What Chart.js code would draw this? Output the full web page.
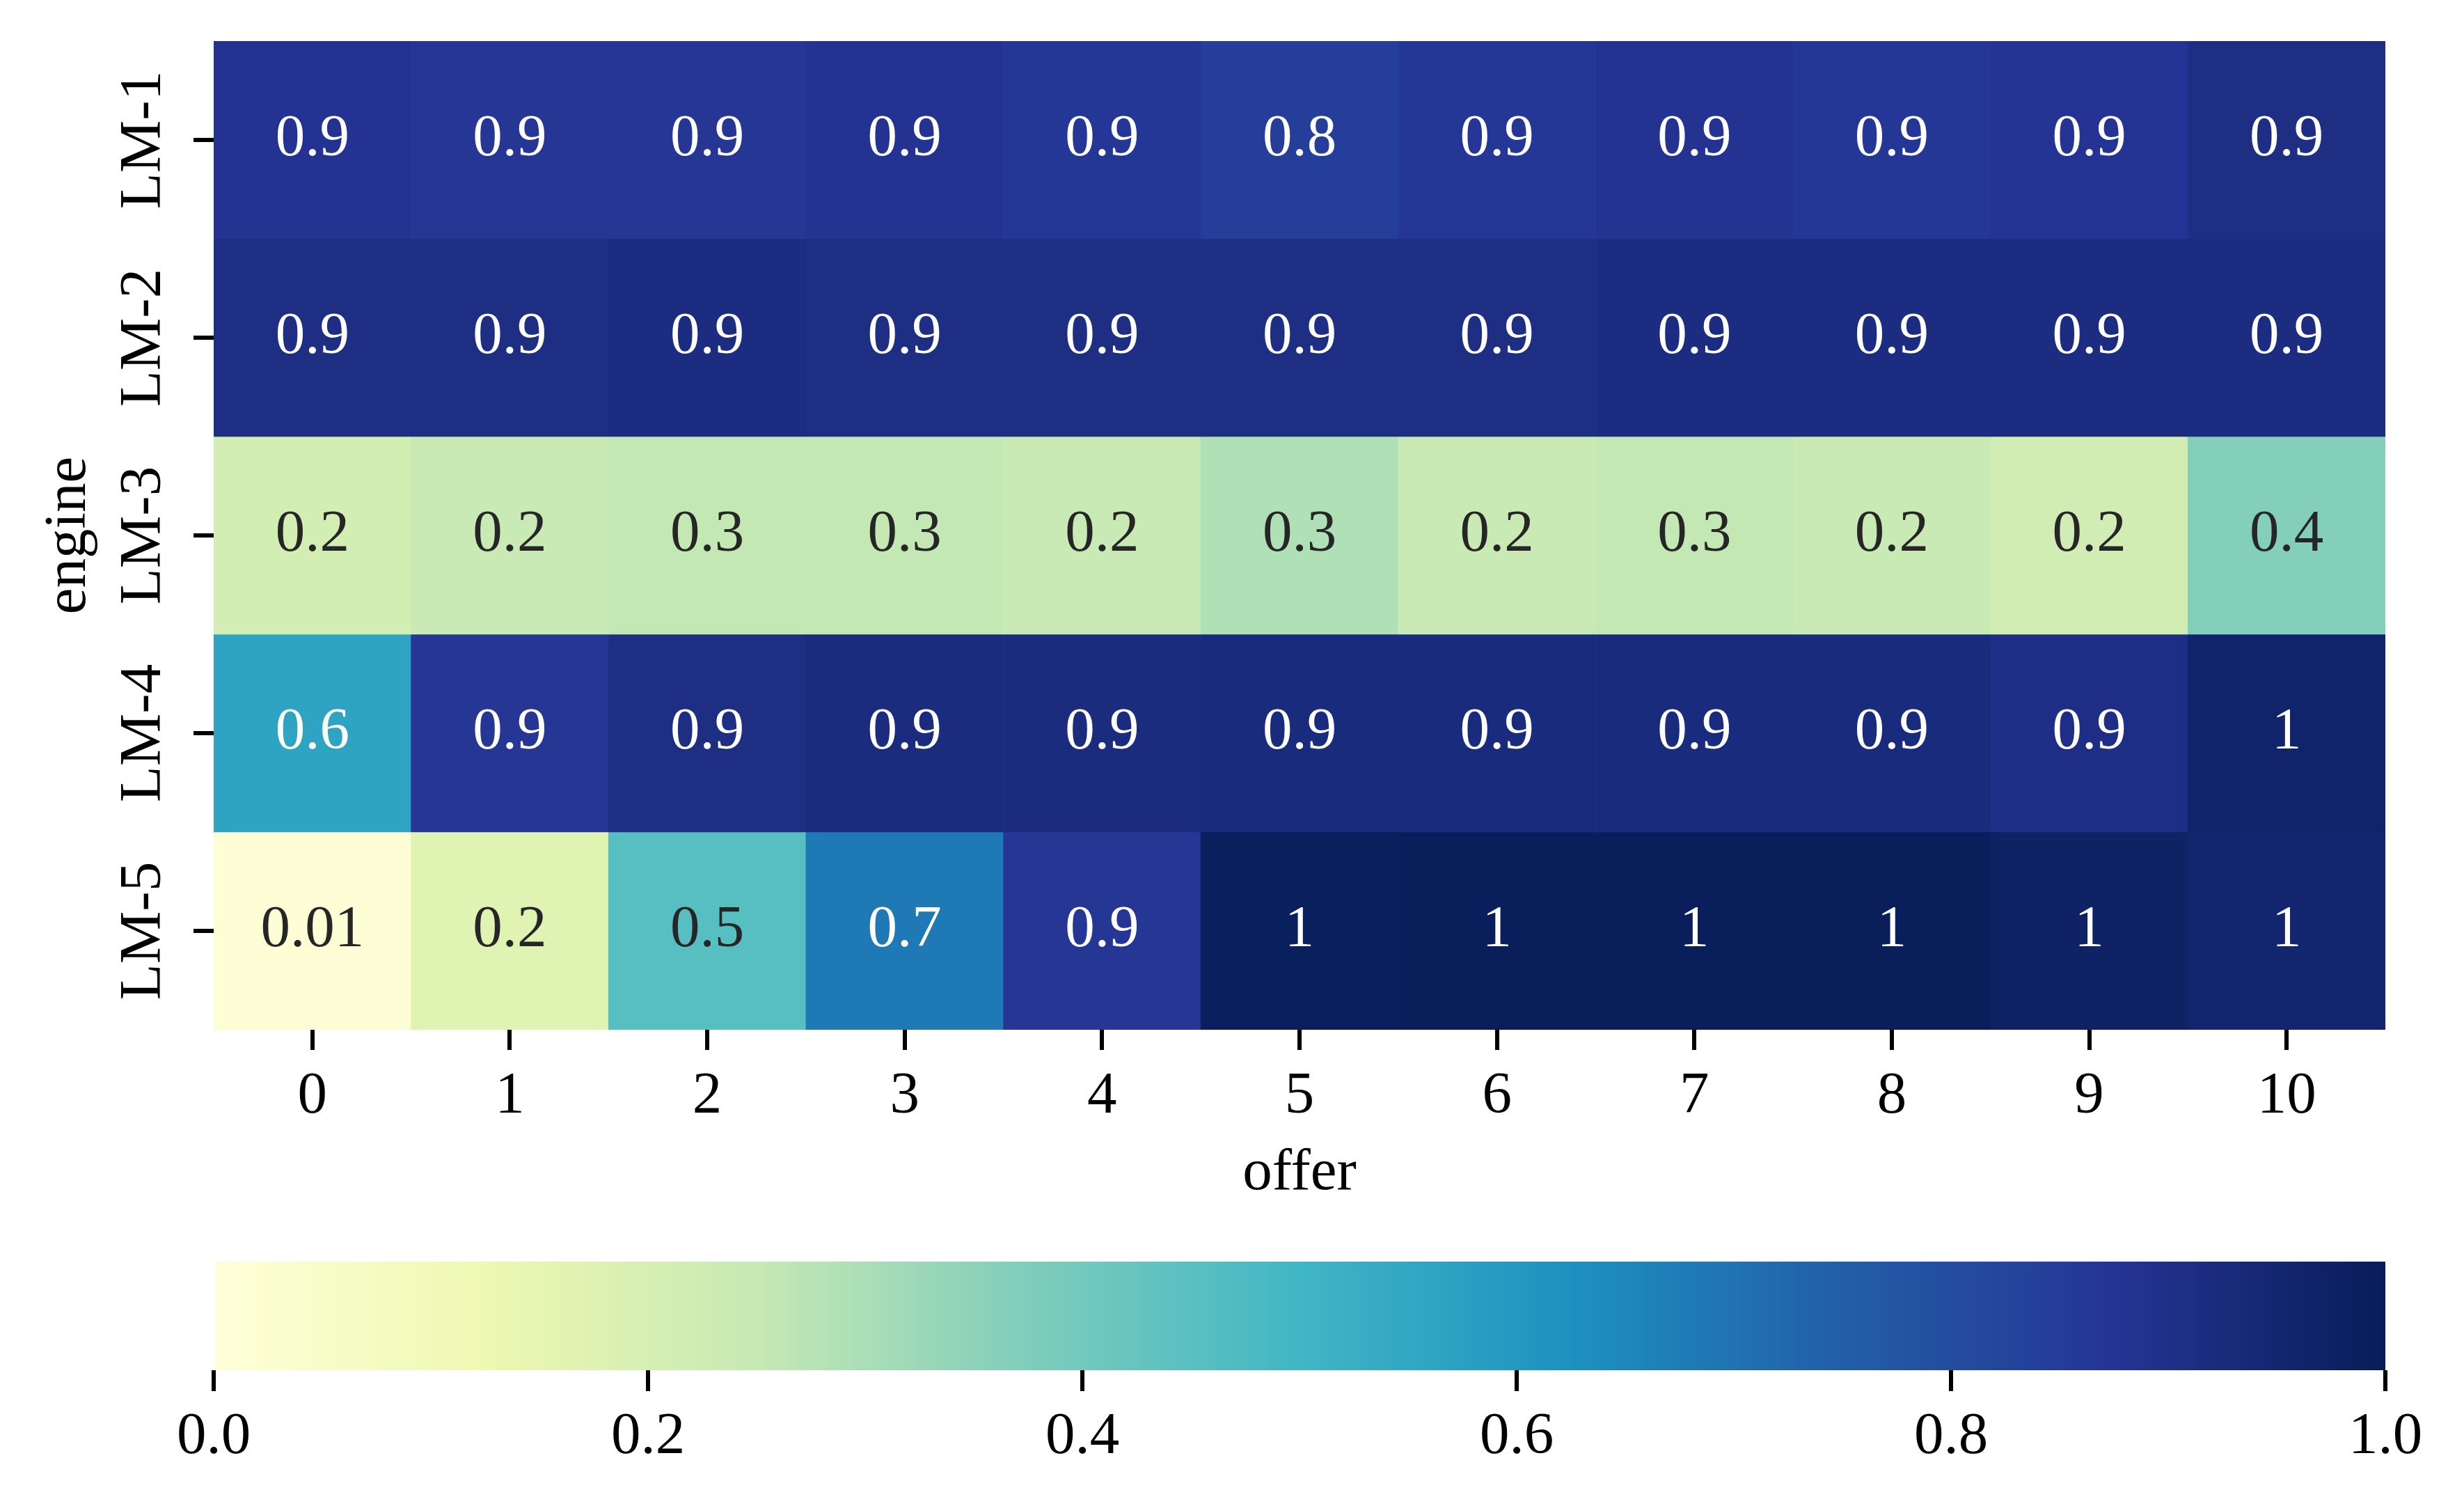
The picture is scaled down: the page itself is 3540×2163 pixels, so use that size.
<!DOCTYPE html>
<html>
<head>
<meta charset="utf-8">
<script src="https://cdn.jsdelivr.net/npm/chart.js@4.4.1/dist/chart.umd.min.js"></script>
<style>
  html, body { margin: 0; padding: 0; background: #fff; }
  #wrap { position: relative; width: 3540px; height: 2163px; }
  #heat { position: absolute; left: 0; top: 0; }
  #cbar { position: absolute; left: 0; top: 1740px; }
</style>
</head>
<body>
<div id="wrap">
  <canvas id="heat" width="3540" height="1740"></canvas>
  <canvas id="cbar" width="3540" height="423"></canvas>
</div>
<script>
const offers = ["0", "1", "2", "3", "4", "5", "6", "7", "8", "9", "10"];
const engines = ["LM-1", "LM-2", "LM-3", "LM-4", "LM-5"];

// values
const lm1 = [0.88, 0.87, 0.87, 0.88, 0.865, 0.845, 0.865, 0.88, 0.865, 0.875, 0.91];
const lm2 = [0.91, 0.91, 0.915, 0.91, 0.91, 0.91, 0.91, 0.915, 0.915, 0.915, 0.915];
const lm3 = [0.21, 0.245, 0.255, 0.255, 0.245, 0.29, 0.245, 0.255, 0.245, 0.215, 0.366];
const lm4 = [0.565, 0.87, 0.91, 0.92, 0.92, 0.925, 0.925, 0.925, 0.925, 0.905, 0.96];
const lm5 = [0.01, 0.17, 0.455, 0.685, 0.87, 0.99, 0.995, 0.995, 0.995, 0.975, 0.955];
const rows = [lm1, lm2, lm3, lm4, lm5];

const cbarTicks = [0, 0.2, 0.4, 0.6, 0.8, 1.0];

// YlGnBu
const ylgnbu = [
  [255, 255, 217], [237, 248, 177], [199, 233, 180], [127, 205, 187], [65, 182, 196],
  [29, 145, 192], [34, 94, 168], [37, 52, 148], [8, 29, 88]
];

function cmap(v) {
  const t = Math.min(Math.max(v, 0), 1) * (ylgnbu.length - 1);
  const i = Math.min(Math.floor(t), ylgnbu.length - 2);
  const f = t - i;
  const a = ylgnbu[i], b = ylgnbu[i + 1];
  return [0, 1, 2].map((k) => Math.round(a[k] + (b[k] - a[k]) * f));
}

function rgb(c) {
  return "rgb(" + c.join(",") + ")";
}

// same rule seaborn uses for annot colour
function textColor(v) {
  const lin = cmap(v).map((x) => {
    x = x / 255;
    return x <= 0.03928 ? x / 12.92 : Math.pow((x + 0.055) / 1.055, 2.4);
  });
  const lum = 0.2126 * lin[0] + 0.7152 * lin[1] + 0.0722 * lin[2];
  return lum > 0.408 ? "#262626" : "#ffffff";
}

function fmt(v) {
  return String(Number(v.toPrecision(1)));
}

const FONT = "'Liberation Serif', 'Times New Roman', serif";
const FS = 85;
Chart.defaults.font.family = FONT;
Chart.defaults.font.size = FS;
Chart.defaults.color = "#000";

const cellText = {
  id: "cellText",
  afterDatasetsDraw(chart) {
    const ctx = chart.ctx;
    ctx.save();
    ctx.font = FS + "px " + FONT;
    ctx.textAlign = "center";
    ctx.textBaseline = "middle";
    rows.forEach((vals, r) => {
      chart.getDatasetMeta(r).data.forEach((bar, c) => {
        ctx.fillStyle = textColor(vals[c]);
        ctx.fillText(fmt(vals[c]), bar.x, (bar.y + bar.base) / 2);
      });
    });
    ctx.restore();
  }
};

const rowLabels = {
  id: "rowLabels",
  afterDraw(chart) {
    const ctx = chart.ctx;
    const y = chart.scales.y;
    ctx.save();
    ctx.font = FS + "px " + FONT;
    ctx.fillStyle = "#000";
    ctx.textAlign = "center";
    ctx.textBaseline = "middle";
    engines.forEach((name, i) => {
      ctx.save();
      ctx.translate(208, y.getPixelForValue(i));
      ctx.rotate(-Math.PI / 2);
      ctx.fillText(name, 0, 0);
      ctx.restore();
    });
    ctx.restore();
  }
};

new Chart(document.getElementById("heat"), {
  type: "bar",
  data: {
    labels: offers,
    datasets: rows.map((vals, r) => ({
      label: engines[r],
      data: vals.map(() => [r - 0.5, r + 0.5]),
      backgroundColor: vals.map((v) => rgb(cmap(v))),
      borderWidth: 0,
      grouped: false,
      barPercentage: 1,
      categoryPercentage: 1
    }))
  },
  options: {
    responsive: false,
    animation: false,
    devicePixelRatio: 1,
    layout: { padding: { top: 59, right: 113, left: 0, bottom: 0 } },
    plugins: { legend: { display: false }, tooltip: { enabled: false } },
    scales: {
      x: {
        type: "category",
        grid: { offset: false, drawOnChartArea: false, tickLength: 29, lineWidth: 6, color: "#000" },
        border: { display: false },
        ticks: { padding: 17, maxRotation: 0, font: { size: FS } },
        title: { display: true, text: "offer", font: { size: FS }, padding: { top: 0, bottom: 3 } },
        afterFit: (axis) => { axis.height = 261; }
      },
      y: {
        type: "linear",
        min: -0.5,
        max: 4.5,
        reverse: true,
        afterBuildTicks: (axis) => { axis.ticks = engines.map((_, i) => ({ value: i })); },
        grid: { drawOnChartArea: false, tickLength: 29, lineWidth: 6, color: "#000" },
        border: { display: false },
        ticks: { display: false },
        title: { display: true, text: "engine", font: { size: FS }, padding: { top: 49, bottom: 0 } },
        afterFit: (axis) => { axis.width = 307; }
      }
    }
  },
  plugins: [cellText, rowLabels]
});

new Chart(document.getElementById("cbar"), {
  type: "bar",
  data: {
    labels: [""],
    datasets: [{
      data: [[0, 1]],
      backgroundColor: (c) => {
        const area = c.chart.chartArea;
        if (!area) return "#fff";
        const g = c.chart.ctx.createLinearGradient(area.left, 0, area.right, 0);
        ylgnbu.forEach((col, i) => g.addColorStop(i / (ylgnbu.length - 1), rgb(col)));
        return g;
      },
      borderWidth: 0,
      barPercentage: 1,
      categoryPercentage: 1
    }]
  },
  options: {
    indexAxis: "y",
    responsive: false,
    animation: false,
    devicePixelRatio: 1,
    layout: { padding: { top: 72, right: 113, left: 307, bottom: 0 } },
    plugins: { legend: { display: false }, tooltip: { enabled: false } },
    scales: {
      x: {
        type: "linear",
        min: 0,
        max: 1,
        afterBuildTicks: (axis) => { axis.ticks = cbarTicks.map((v) => ({ value: v })); },
        grid: { drawOnChartArea: false, tickLength: 30, lineWidth: 6, color: "#000" },
        border: { display: false },
        ticks: { padding: 16, maxRotation: 0, font: { size: FS }, callback: (v) => Number(v).toFixed(1) },
        afterFit: (axis) => { axis.height = 195; }
      },
      y: { display: false }
    }
  }
});
</script>
</body>
</html>
